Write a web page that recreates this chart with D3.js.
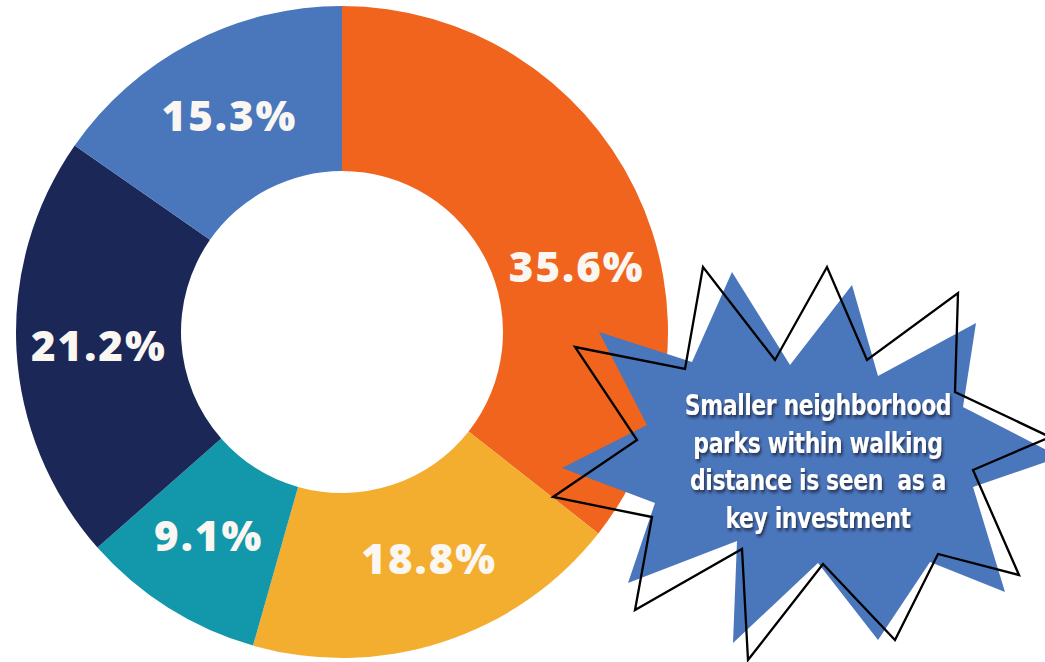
<!DOCTYPE html>
<html>
<head>
<meta charset="utf-8">
<script src="https://cdn.jsdelivr.net/npm/d3@7"></script>
<style>
  html, body { margin: 0; padding: 0; background: #fff; }
  svg { display: block; }
</style>
</head>
<body>
<div id="chart"></div>
<script>
var width = 1045;
var height = 662;

// slice values, clockwise from 12 o'clock
const shares = [35.6, 18.8, 9.1, 21.2, 15.3];
const shareLabels = ["35.6%", "18.8%", "9.1%", "21.2%", "15.3%"];
const sliceColors = ["#F0641E", "#F4AE2F", "#1397AB", "#1B2757", "#4A77BC"];
// small angle nudges (degrees) for labels that sit off the centroid
const labelNudge = [10.5, -3, 1, 0, 0];

const calloutLines = ["Smaller neighborhood", "parks within walking", "distance is seen  as a", "key investment"];

// starburst outlines (screen px)
const starFill = [[599,332],[692,362],[732,272],[790,365],[852,285],[878,376],[976,323],[963,407],
                  [1060,457],[973,487],[1005,592],[930,562],[878,640],[818,563],[733,643],[737,541],
                  [628,583],[655,503],[562,468],[647,425]];
const starLine = [[575,347],[685,369],[703,267],[775,360],[827,267],[867,360],[958,293],[955,392],
                  [1050,437],[973,470],[1019,575],[938,554],[895,640],[823,564],[748,660],[742,549],
                  [635,610],[652,517],[553,497],[637,440]];

var cx = 342, cy = 332, rOuter = 326, rInner = 161;

var svg = d3.select("#chart").append("svg")
    .attr("width", width).attr("height", height);

var defs = svg.append("defs");
var f = defs.append("filter").attr("id", "shadow")
    .attr("x", "-10%").attr("y", "-30%").attr("width", "130%").attr("height", "170%");
f.append("feDropShadow").attr("dx", 2).attr("dy", 2.5).attr("stdDeviation", 1.6)
    .attr("flood-color", "#1a1a2a").attr("flood-opacity", 0.75);

let pie = d3.pie().sort(null).value(d => d);
let arcs = pie(shares);
let arc = d3.arc().innerRadius(rInner).outerRadius(rOuter);
let labelRadius = (rInner + rOuter) / 2;

let donut = svg.append("g").attr("transform", `translate(${cx},${cy})`);
donut.selectAll(".slice").data(arcs)
    .join("path")
    .attr("class", "slice")
    .attr("d", arc)
    .attr("fill", (d, i) => sliceColors[i]);

function labelAngle(d, i) {
    return (d.startAngle + d.endAngle) / 2 + labelNudge[i] * Math.PI / 180;
}

donut.selectAll(".pct").data(arcs)
    .join("text")
    .attr("class", "pct")
    .attr("x", (d, i) => labelRadius * Math.sin(labelAngle(d, i)))
    .attr("y", (d, i) => -labelRadius * Math.cos(labelAngle(d, i)))
    .attr("dy", "0.36em")
    .attr("text-anchor", "middle")
    .attr("font-family", "'Open Sans', Roboto, sans-serif")
    .attr("font-weight", 800)
    .attr("font-size", 42)
    .attr("letter-spacing", 2)
    .attr("fill", "#FAF6F2")
    .text((d, i) => shareLabels[i]);

// callout starburst
let line = d3.line().curve(d3.curveLinearClosed);
svg.append("path").attr("d", line(starFill)).attr("fill", "#4A76BC");
svg.append("path").attr("d", line(starLine)).attr("fill", "none")
    .attr("stroke", "#000").attr("stroke-width", 2.3).attr("stroke-linejoin", "miter");

// condensed look: squeeze the bold face horizontally
let callout = svg.append("g").attr("filter", "url(#shadow)")
    .attr("transform", "translate(818,0) scale(0.76,1)");
callout.selectAll("text").data(calloutLines)
    .join("text")
    .attr("x", 0)
    .attr("y", (d, i) => 415 + i * 37.7)
    .attr("text-anchor", "middle")
    .attr("font-family", "'DejaVu Sans', sans-serif")
    .attr("font-weight", 700)
    .attr("font-size", 29)
    .attr("letter-spacing", -0.6)
    .attr("fill", "#fff")
    .style("white-space", "pre")
    .text(d => d);
</script>
</body>
</html>
